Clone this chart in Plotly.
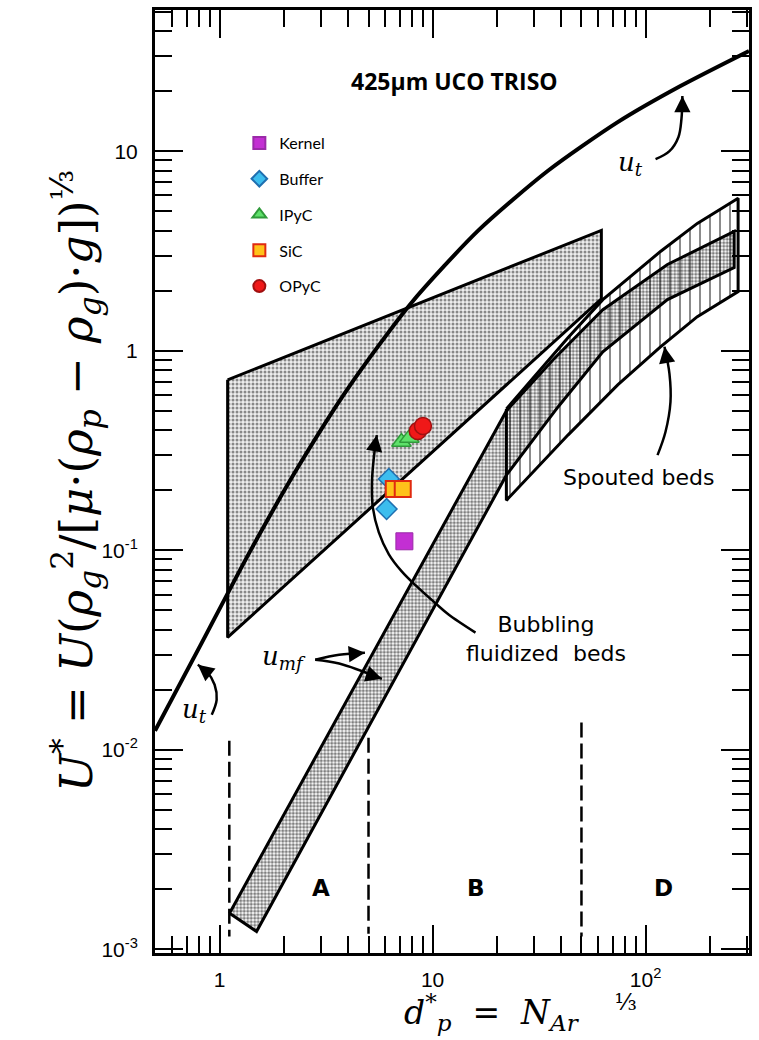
import numpy as np
import plotly.graph_objects as go

# ---------------- data ----------------
# terminal velocity curve u_t
ut_x = [0.497, 0.806, 1.381, 2.365, 4.05, 7.89, 16.4, 34.8, 74.0, 145.8, 306]
ut_y = [0.01246, 0.0329, 0.0977, 0.2674, 0.6594, 1.722, 4.009, 7.98, 13.99, 21.22, 31.8]

# bubbling fluidized bed region (polygon)
bub_x = [1.09, 62.0, 62.0, 1.09]
bub_y = [0.715, 4.01, 1.82, 0.0366]

# u_mf band
umf_up_x = [1.113, 22.2, 36.8, 63.0, 126.7, 260.6]
umf_up_y = [0.00152, 0.4995, 0.901, 1.607, 2.705, 3.96]
umf_lo_x = [1.49, 22.2, 38.8, 63.0, 126.7, 260.6]
umf_lo_y = [0.00123, 0.238, 0.5231, 0.9885, 1.804, 2.613]

# spouted beds band
sp_top_x = [22.2, 31.3, 43.2, 63.0, 117.5, 175.0, 272]
sp_top_y = [0.511, 0.784, 1.162, 1.804, 3.145, 4.346, 5.805]
sp_bot_x = [22.2, 43.2, 74.0, 117.5, 175.0, 272]
sp_bot_y = [0.178, 0.378, 0.6746, 1.047, 1.482, 1.98]

# Geldart group boundaries (dashed)
geldart_x = [1.11, 5.0, 50.0]
geldart_top = [0.0111, 0.0115, 0.0137]
geldart_bot = [0.00116, 0.00120, 0.00116]
group_labels = ["A", "B", "D"]

# TRISO particle layers
series_names = ["Kernel", "Buffer", "IPyC", "SiC", "OPyC"]
kernel_x, kernel_y = [7.37], [0.111]
buffer_x, buffer_y = [6.23, 6.08], [0.228, 0.161]
ipyc_x, ipyc_y = [7.14, 7.78], [0.349, 0.366]
sic_x, sic_y = [6.57, 7.24], [0.203, 0.203]
opyc_x, opyc_y = [8.51, 9.01], [0.396, 0.420]

# annotation arrows (data coordinates)
arrow_ut_top_x = [111.4, 129.5, 142.6, 147.4, 148.9]
arrow_ut_top_y = [9.12, 10.0, 11.75, 14.5, 18.9]
arrow_ut_bot_x = [0.918, 0.968, 0.947, 0.870, 0.789]
arrow_ut_bot_y = [0.0150, 0.0178, 0.0212, 0.0247, 0.0267]
arrow_umf1_x = [2.81, 3.64, 4.81]
arrow_umf1_y = [0.0283, 0.0300, 0.0307]
arrow_umf2_x = [2.81, 3.64, 5.78]
arrow_umf2_y = [0.0283, 0.0271, 0.0227]
arrow_bub_x = [15.9, 11.88, 10.33, 8.33, 7.16, 6.23, 5.59, 5.24, 5.19, 5.30, 5.47]
arrow_bub_y = [0.0387, 0.0477, 0.0542, 0.0667, 0.0784, 0.0955, 0.123, 0.164, 0.220, 0.293, 0.378]
arrow_sp_x = [113.8, 124.0, 130.9, 129.5, 122.7]
arrow_sp_y = [0.300, 0.392, 0.554, 0.766, 1.047]

# axes
x_range = [0.497, 306]
y_range = [0.00096, 51]
x_tickvals = [1, 10, 100]
x_ticktext = ["1", "10", "10<sup>2</sup>"]
y_tickvals = [0.001, 0.01, 0.1, 1, 10]
y_ticktext = ["10<sup>-3</sup>", "10<sup>-2</sup>", "10<sup>-1</sup>", "1", "10"]

# ---------------- figure ----------------
fig = go.Figure()

# bubbling region
fig.add_trace(go.Scatter(
    x=bub_x + [bub_x[0]], y=bub_y + [bub_y[0]], mode="lines", fill="toself",
    fillcolor="white",
    fillpattern=dict(shape=".", size=4, solidity=0.45, fgcolor="#222", bgcolor="#eeeeee"),
    line=dict(color="black", width=3), showlegend=False, hoverinfo="skip"))

# spouted beds band
sp_poly_x = sp_top_x + sp_bot_x[::-1] + [sp_top_x[0]]
sp_poly_y = sp_top_y + sp_bot_y[::-1] + [sp_top_y[0]]
fig.add_trace(go.Scatter(
    x=sp_poly_x, y=sp_poly_y, mode="lines", fill="toself", fillcolor="white",
    fillpattern=dict(shape="|", size=10, solidity=0.18, fgcolor="black", bgcolor="white"),
    line=dict(color="black", width=3), showlegend=False, hoverinfo="skip"))

# u_mf band
umf_poly_x = umf_up_x + umf_lo_x[::-1] + [umf_up_x[0]]
umf_poly_y = umf_up_y + umf_lo_y[::-1] + [umf_up_y[0]]
fig.add_trace(go.Scatter(
    x=umf_poly_x, y=umf_poly_y, mode="lines", fill="toself",
    fillcolor="rgba(0,0,0,0)",
    fillpattern=dict(shape=".", size=3.5, solidity=0.6, fgcolor="black", bgcolor="rgba(0,0,0,0)"),
    line=dict(color="black", width=3),
    showlegend=False, hoverinfo="skip"))

# u_t curve
fig.add_trace(go.Scatter(
    x=ut_x, y=ut_y, mode="lines", line=dict(color="black", width=4, shape="spline", smoothing=0.7),
    showlegend=False, hoverinfo="skip"))

# dashed group boundaries
for gx, gt, gb in zip(geldart_x, geldart_top, geldart_bot):
    fig.add_trace(go.Scatter(
        x=[gx, gx], y=[gt, gb], mode="lines",
        line=dict(color="black", width=2.5, dash="15px,6px"),
        showlegend=False, hoverinfo="skip"))

# arrows (curves)
arrows = [
    (arrow_ut_top_x, arrow_ut_top_y),
    (arrow_ut_bot_x, arrow_ut_bot_y),
    (arrow_umf1_x, arrow_umf1_y),
    (arrow_umf2_x, arrow_umf2_y),
    (arrow_bub_x, arrow_bub_y),
    (arrow_sp_x, arrow_sp_y),
]
for ax_, ay_ in arrows:
    fig.add_trace(go.Scatter(
        x=ax_, y=ay_, mode="lines",
        line=dict(color="black", width=2.5, shape="spline", smoothing=1.0),
        showlegend=False, hoverinfo="skip"))

annotations = []
# arrowheads: tip at last point, tail pixel offset
head_offsets = [(0, 12), (10, 8), (-12, 1), (-12, -4), (-2, 12), (2, 12)]
for (ax_, ay_), (ox, oy) in zip(arrows, head_offsets):
    annotations.append(dict(
        x=np.log10(ax_[-1]), y=np.log10(ay_[-1]), xref="x", yref="y",
        ax=ox, ay=oy, axref="pixel", ayref="pixel",
        text="", showarrow=True, arrowhead=2, arrowsize=1.3, arrowwidth=2.5,
        arrowcolor="black", standoff=0))

# markers
fig.add_trace(go.Scatter(
    x=kernel_x, y=kernel_y, mode="markers", name=series_names[0], legendgroup="g1",
    marker=dict(symbol="square", size=17, color="#C32FD3", line=dict(color="#9a2aa8", width=1))))
fig.add_trace(go.Scatter(
    x=buffer_x, y=buffer_y, mode="markers", name=series_names[1], legendgroup="g2",
    marker=dict(symbol="diamond", size=16, color="#3CBDEE", line=dict(color="#1f6fb0", width=1.5))))
fig.add_trace(go.Scatter(
    x=ipyc_x, y=ipyc_y, mode="markers", name=series_names[2], legendgroup="g3",
    marker=dict(symbol="triangle-up", size=17, color="#5EE06A", line=dict(color="#2f9a3a", width=1.5))))
fig.add_trace(go.Scatter(
    x=sic_x, y=sic_y, mode="markers", name=series_names[3], legendgroup="g4",
    marker=dict(symbol="square", size=16, color="#FFC21A", line=dict(color="#E02A10", width=2))))
fig.add_trace(go.Scatter(
    x=opyc_x, y=opyc_y, mode="markers", name=series_names[4], legendgroup="g5",
    marker=dict(symbol="circle", size=17, color="#F01818", line=dict(color="#a01010", width=1.5))))

L, R, T, B = 155, 7, 9, 87
W, H = 759, 1040
pw, ph = W - L - R, H - T - B


def px2paper(px, py):
    return (px - L) / pw, (H - B - py) / ph


def add_text(text, px, py, size, family, **kw):
    xp, yp = px2paper(px, py)
    d = dict(text=text, x=xp, y=yp, xref="paper", yref="paper", showarrow=False,
             xanchor="center", yanchor="middle", font=dict(size=size, family=family, color="black"))
    d.update(kw)
    annotations.append(d)


add_text("<b>425μm UCO TRISO</b>", 456, 80, 23, "Open Sans")
add_text("Spouted beds", 641, 477, 22, "DejaVu Sans")
add_text("Bubbling<br>fluidized  beds", 548, 639, 22, "DejaVu Sans")
add_text("<i>u</i><sub><i>t</i></sub>", 633, 163, 26, "DejaVu Serif")
add_text("<i>u</i><sub><i>t</i></sub>", 195, 710, 26, "DejaVu Serif")
add_text("<i>u</i><sub><i>mf</i></sub>", 285, 657, 26, "DejaVu Serif")
for lab, gpx in zip(group_labels, [322, 478, 666]):
    add_text("<b>" + lab + "</b>", gpx, 888, 23, "DejaVu Sans")
add_text("<i>d</i><sup>*</sup><sub><i>p</i></sub>  =  <i>N</i><sub><i>Ar</i></sub><sup>     ⅓</sup>",
         522, 1013, 33, "DejaVu Serif")
add_text("<i>U</i><sup>*</sup> = <i>U</i>(<i>ρ</i><sub><i>g</i></sub><sup>2</sup>/[<i>μ</i>·(<i>ρ</i><sub><i>p</i></sub> − "
         "<i>ρ</i><sub><i>g</i></sub>)·<i>g</i>])<sup>⅓</sup>",
         75, 480, 45, "DejaVu Serif", textangle=-90)

x_minor = [0.5, 0.6, 0.7, 0.8, 0.9] + [m * 10 ** e for e in range(0, 2) for m in range(2, 10)] + [200, 300]
y_minor = [m * 10 ** e for e in range(-3, 2) for m in range(2, 10)]

axis_common = dict(
    type="log", showgrid=False, zeroline=False, showline=True, linecolor="black", linewidth=3,
    mirror="ticks", ticks="inside", ticklen=28, tickwidth=2, tickcolor="black",
    tickfont=dict(family="Liberation Sans", size=21, color="black"),
)

fig.update_layout(
    width=W, height=H,
    margin=dict(l=L, r=R, t=T, b=B),
    plot_bgcolor="white", paper_bgcolor="white",
    xaxis=dict(range=[np.log10(x_range[0]), np.log10(x_range[1])], tickmode="array",
               tickvals=x_tickvals, ticktext=x_ticktext, ticklabelstandoff=6,
               minor=dict(tickmode="array", tickvals=x_minor, ticks="inside", ticklen=17,
                          tickwidth=2, tickcolor="black", showgrid=False),
               **axis_common),
    yaxis=dict(range=[np.log10(y_range[0]), np.log10(y_range[1])], tickmode="array",
               tickvals=y_tickvals, ticktext=y_ticktext, ticklabelstandoff=10,
               minor=dict(tickmode="array", tickvals=y_minor, ticks="inside", ticklen=17,
                          tickwidth=2, tickcolor="black", showgrid=False),
               **axis_common),
    legend=dict(x=0.142, y=0.877, xanchor="left", yanchor="top", bgcolor="rgba(0,0,0,0)",
                font=dict(family="Lato", size=16, color="black"), tracegroupgap=12,
                itemsizing="constant", traceorder="grouped"),
    annotations=annotations,
    showlegend=True,
)

fig.write_html("out.html", config={"displayModeBar": False},
               post_script="document.body.style.margin='0px';document.body.style.overflow='hidden';")
